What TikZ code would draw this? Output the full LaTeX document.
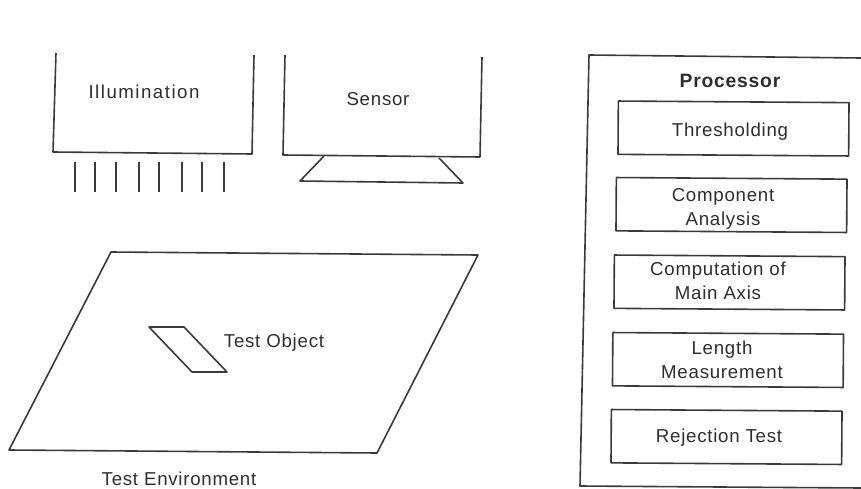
\documentclass[tikz,border=0pt]{standalone}
\usepackage{fontspec}
\setmainfont[LetterSpace=4]{Liberation Sans}
\definecolor{scanink}{HTML}{3A3A3A}
\definecolor{scantext}{HTML}{2E2E2E}
\tikzset{
  sketch/.style={draw=scanink, line width=1.2pt, line join=round},
  procbox/.style={sketch, rotate=-0.4, inner sep=0pt, minimum width=173pt, minimum height=40pt},
  caption/.style={text=scantext, inner sep=0pt, align=center, font=\fontsize{14}{18.4}\selectfont},
}

\begin{document}
\begin{tikzpicture}[x=0.75pt,y=-0.75pt]
  \useasboundingbox (0,0) rectangle (861,489);
  % upper left units
  \draw[sketch] (56,53) -- (53,152) -- (252,154) -- (254,55);
  \draw[sketch] (285,55) -- (283,155) -- (480,157) -- (482,57);
  \draw[sketch] (324,156) -- (300,181) -- (463,183) -- (439,158);
  \foreach \x in {75,95,116,139,159,182,202,224}
    \draw[sketch] (\x,162) -- (\x,192);
  \node[caption, font=\fontsize{14}{18.4}\selectfont\addfontfeature{LetterSpace=8}] (illum) at (144,92) {Illumination};
  \node[caption] (sensor) at (378,99) {Sensor};
  % test environment
  \draw[sketch] (111,252) -- (478,255) -- (377,453) -- (9,450) -- cycle;
  \draw[sketch] (149,327) -- (184,327) -- (227,372) -- (192,372) -- cycle;
  \node[caption] (object) at (274,343) {Test Object};
  \node[caption] (environment) at (179,479) {Test Environment};
  % processor
  \draw[sketch] (861,58) -- (589,55) -- (580,486) -- (861,488);
  \node[caption, font=\fontsize{14.5}{18.4}\selectfont\bfseries] (processor) at (730,81) {Processor};
  \node[procbox] (thresh) at (733.5,128.5) {};
  \node[procbox] (component) at (731.5,205) {};
  \node[procbox] (axis) at (729.5,282.5) {};
  \node[procbox] (length) at (728,360) {};
  \node[procbox] (reject) at (726.5,437) {};
  \node[caption] (threshtext) at (730,132) {Thresholding};
  \node[caption] (componenttext) at (723,209) {Component\\Analysis};
  \node[caption] (axistext) at (718,281) {Computation of\\Main Axis};
  \node[caption] (lengthtext) at (722,360) {Length\\Measurement};
  \node[caption] (rejecttext) at (719,438) {Rejection Test};
\end{tikzpicture}
\end{document}
